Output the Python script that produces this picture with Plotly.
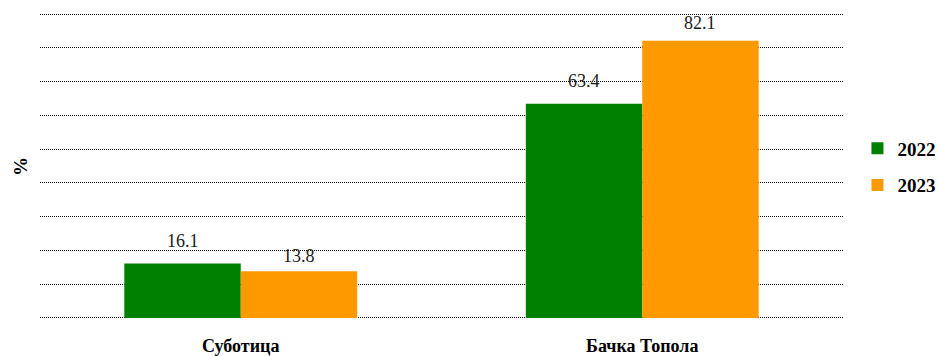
import plotly.graph_objects as go

# Share (%) by municipality, two years
municipalities = ["Суботица", "Бачка Топола"]
years = ["2022", "2023"]
values_2022 = [16.1, 63.4]
values_2023 = [13.8, 82.1]

colors = {"2022": "#008000", "2023": "#FF9900"}
serif = "Liberation Serif"

fig = go.Figure()
for year, vals in zip(years, [values_2022, values_2023]):
    fig.add_trace(go.Bar(
        x=municipalities, y=vals, name=f"<b>{year}</b>", legendgroup=year,
        marker=dict(color=colors[year], line=dict(width=0)),
    ))

# value labels above each bar (pixel lift per label)
offsets = {"2022": -58, "2023": 58}
lifts = {"2022": [11, 11], "2023": [3, 6]}
for year, vals in zip(years, [values_2022, values_2023]):
    for m, v, lift in zip(municipalities, vals, lifts[year]):
        fig.add_annotation(
            x=m, y=v, text=f"{v:.1f}", showarrow=False,
            xshift=offsets[year], yshift=lift, yanchor="bottom",
            font=dict(family=serif, size=18, color="#1a1a1a"),
        )

# axis title
fig.add_annotation(
    xref="paper", yref="paper", x=-0.025, y=0.5, text="<b>%</b>",
    textangle=-90, showarrow=False, xanchor="center", yanchor="middle",
    font=dict(family=serif, size=19, color="black"),
)

fig.update_layout(
    width=938, height=356,
    margin=dict(l=40, r=95, t=12, b=36, autoexpand=False),
    plot_bgcolor="white", paper_bgcolor="white",
    barmode="group", bargap=0.42, bargroupgap=0,
    legend=dict(
        x=1.018, y=0.497, xanchor="left", yanchor="middle",
        font=dict(family=serif, size=19, color="black"),
        itemwidth=30, tracegroupgap=9,
    ),
    showlegend=True,
)
fig.update_yaxes(
    range=[-0.6, 90.6], dtick=10, showticklabels=False,
    showgrid=True, gridcolor="black", griddash="1px,1px", gridwidth=1,
    zeroline=False, showline=False,
)
fig.update_xaxes(
    showline=False, ticks="outside", ticklen=9, tickcolor="rgba(0,0,0,0)",
    tickfont=dict(family=serif, size=18, color="black"),
    tickvals=municipalities, ticktext=[f"<b>{m}</b>" for m in municipalities],
)

fig.write_html("out.html")
